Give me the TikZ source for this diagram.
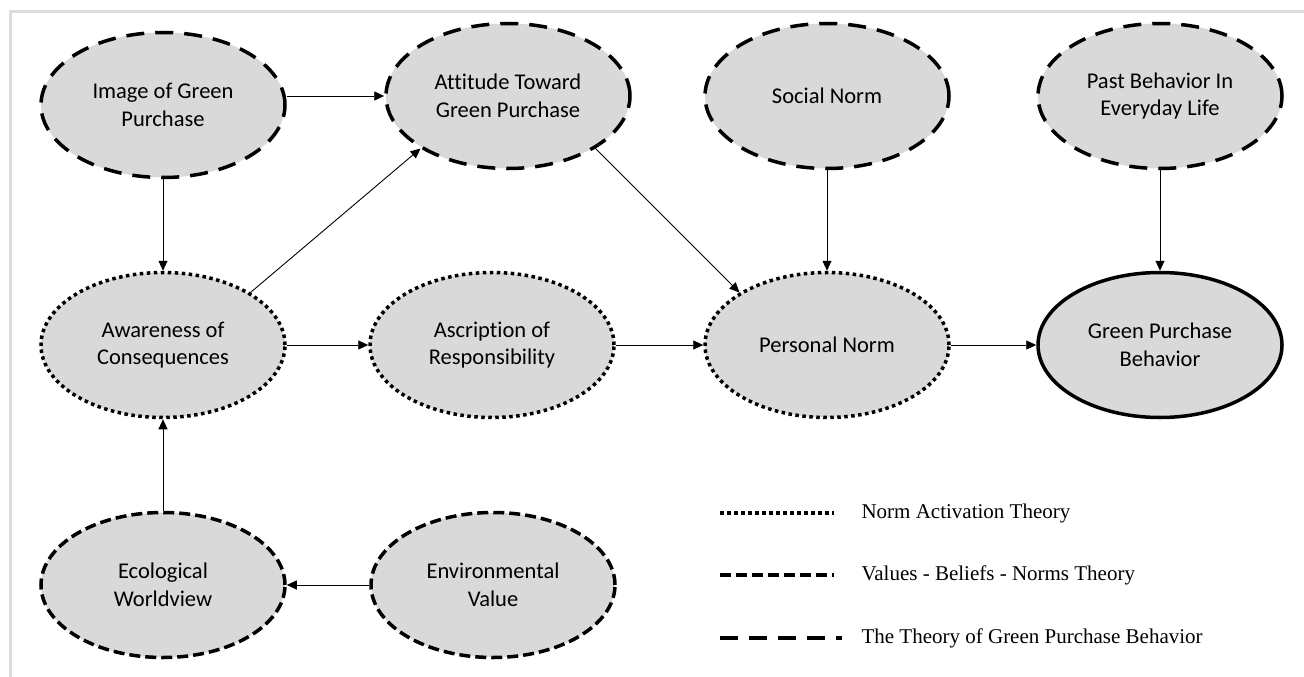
\documentclass[tikz,border=0pt]{standalone}
\usepackage{fontspec}
\setmainfont{Carlito}[Ligatures=NoCommon]
\newfontfamily\legendfont{Liberation Serif}
\usetikzlibrary{shapes, arrows.meta, positioning, calc}
\definecolor{bubblegray}{RGB}{217, 217, 217}
\definecolor{framegray}{RGB}{220, 220, 220}

\begin{document}
\begin{tikzpicture}[
    x=1pt, y=-1pt,
    concept/.style={ellipse, fill=bubblegray, line width=3.5pt, minimum width=244pt, minimum height=145pt, inner sep=0pt, align=center, font=\fontsize{22.5}{27.5}\selectfont},
    natline/.style={dash pattern=on 3.5pt off 3.5pt},
    vbnline/.style={dash pattern=on 11pt off 5pt},
    gpbline/.style={dash pattern=on 18pt off 11pt},
    arrow/.style={-{Triangle[length=10pt, width=9pt]}, line width=0.9pt},
    legendtext/.style={anchor=west, font=\legendfont\fontsize{21}{25}\selectfont}
]
    \useasboundingbox (0, 0) rectangle (1304, 677);
    \draw[framegray, line width=3pt] (10, 677) -- (10, 12) -- (1304, 12);

    % Top row
    \node[concept, draw, gpbline] (image) at (163, 105) {Image of Green\\Purchase};
    \node[concept, draw, gpbline] (attitude) at (508, 96) {Attitude Toward\\Green Purchase};
    \node[concept, draw, gpbline] (social) at (827, 96) {Social Norm};
    \node[concept, draw, gpbline] (past) at (1160, 96) {Past Behavior In\\Everyday Life};

    % Middle row
    \node[concept, draw, natline] (awareness) at (163, 345) {Awareness of\\Consequences};
    \node[concept, draw, natline] (ascription) at (492, 345) {Ascription of\\Responsibility};
    \node[concept, draw, natline] (personal) at (827, 345) {Personal Norm};
    \node[concept, draw] (behavior) at (1160, 345) {Green Purchase\\Behavior};

    % Bottom row
    \node[concept, draw, vbnline] (ecological) at (163, 585) {Ecological\\Worldview};
    \node[concept, draw, vbnline] (environmental) at (493, 585) {Environmental\\Value};

    \draw[arrow] (image.east |- attitude.west) -- (attitude.west);
    \draw[arrow] (image) -- (awareness);
    \draw[arrow] (awareness.north east) -- (attitude.south west);
    \draw[arrow] (awareness) -- (ascription);
    \draw[arrow] (attitude.south east) -- (personal.north west);
    \draw[arrow] (social) -- (personal);
    \draw[arrow] (ascription) -- (personal);
    \draw[arrow] (personal) -- (behavior);
    \draw[arrow] (past) -- (behavior);
    \draw[arrow] (ecological) -- (awareness);
    \draw[arrow] (environmental) -- (ecological);

    % Legend
    \coordinate (natA) at (720, 513);
    \coordinate (natB) at (834, 513);
    \coordinate (vbnA) at (720, 575);
    \coordinate (vbnB) at (834, 575);
    \coordinate (gpbA) at (720, 638);
    \coordinate (gpbB) at (842, 638);
    \draw[line width=3.5pt, natline] (natA) -- (natB);
    \draw[line width=3.5pt, vbnline] (vbnA) -- (vbnB);
    \draw[line width=3.5pt, gpbline] (gpbA) -- (gpbB);
    \node[legendtext] (natlabel) at (858, 513) {Norm Activation Theory};
    \node[legendtext] (vbnlabel) at (858, 575) {Values - Beliefs - Norms Theory};
    \node[legendtext] (gpblabel) at (858, 638) {The Theory of Green Purchase Behavior};
\end{tikzpicture}
\end{document}
